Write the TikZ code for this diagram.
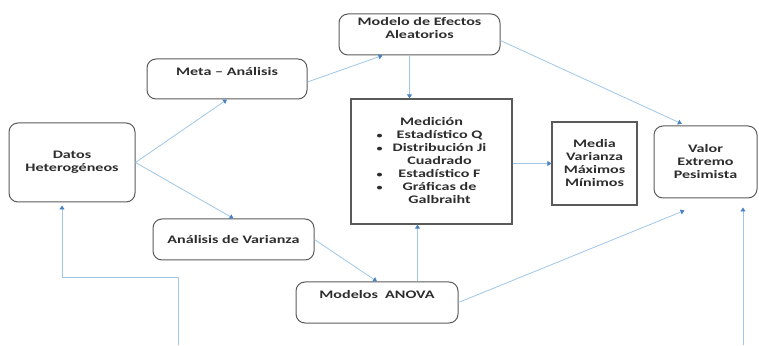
\documentclass[tikz,border=0pt]{standalone}
\usepackage{fontspec}
\setmainfont{Carlito}[FakeStretch=1.4]
\usetikzlibrary{arrows.meta}
\definecolor{lineablue}{RGB}{160,198,232}
\definecolor{puntablue}{RGB}{75,130,195}
\definecolor{bordegris}{RGB}{90,90,90}
\definecolor{textogris}{RGB}{45,45,45}
\tikzset{
  roundbox/.style={draw=bordegris,line width=1pt,rounded corners=9pt,align=center,inner sep=2pt,text=textogris},
  squarebox/.style={draw=bordegris,line width=1.2pt,align=center,inner sep=2pt,text=textogris},
  arriba/.style={text depth=#1},
  flecha/.style={draw=lineablue,line width=0.8pt,-{Triangle[length=4pt,width=5pt,color=puntablue]}}
}
\newcommand{\punto}{\scalebox{0.75}{\textbullet}}

\begin{document}
\begin{tikzpicture}[x=1pt,y=1pt,font=\bfseries\fontsize{11.5}{13}\selectfont]
  \useasboundingbox (0,0) rectangle (759,345);
  \node[roundbox,minimum width=126pt,minimum height=79pt] (datos) at (72,182.5) {Datos\\Heterogéneos};
  \node[roundbox,arriba=14.5pt,minimum width=160pt,minimum height=40pt] (meta) at (227,266) {Meta – Análisis};
  \node[roundbox,arriba=14pt,minimum width=161pt,minimum height=41pt] (modelo) at (419.5,310.5) {Modelo de Efectos\\Aleatorios};
  \node[squarebox,minimum width=161pt,minimum height=125pt] (medicion) at (431.5,183.5) {%
    \begin{tabular}{@{}l@{\hspace{10pt}}c@{}}
      \multicolumn{2}{c}{Medición}\\
      \punto & Estadístico Q\\
      \punto & Distribución Ji\\
             & Cuadrado\\
      \punto & Estadístico F\\
      \punto & Gráficas de\\
             & Galbraiht
    \end{tabular}};
  \node[squarebox,minimum width=85pt,minimum height=83pt] (media) at (594.5,181.5) {Media\\Varianza\\Máximos\\Mínimos};
  \node[roundbox,minimum width=103pt,minimum height=72pt] (valor) at (705.5,183) {Valor\\Extremo\\Pesimista};
  \node[roundbox,minimum width=161pt,minimum height=41pt] (analisis) at (233.5,105.5) {Análisis de Varianza};
  \node[roundbox,arriba=15.5pt,minimum width=162pt,minimum height=41pt] (anova) at (377,42.5) {Modelos\ \ ANOVA};

  \coordinate (bl) at (178,0);
  \coordinate (br) at (743,0);

  \draw[flecha] (datos.east) -- (meta.south);
  \draw[flecha] (datos.east) -- (analisis.north);
  \draw[flecha] ([yshift=-3pt]meta.east) -- ([xshift=-37pt]modelo.south);
  \draw[flecha] ([xshift=-22pt]medicion.north |- modelo.south) -- ([xshift=-22pt]medicion.north);
  \draw[flecha,shorten >=4pt] ([yshift=-6pt]modelo.east) -- ([xshift=-20pt]valor.north);
  \draw[flecha] (medicion.east |- media.west) -- (media.west);
  \draw[flecha] (analisis.east) -- (anova.north);
  \draw[flecha] ([xshift=-14pt]medicion.south |- anova.north) -- ([xshift=-14pt]medicion.south);
  \draw[flecha] (anova.east) -- ([xshift=-21pt,yshift=-12pt]valor.south);
  \draw[flecha] (br) -- ([xshift=37.5pt,yshift=-9pt]valor.south);
  \draw[flecha] (bl) -- ++(0,68) -| ([xshift=-10pt,yshift=-3pt]datos.south);
\end{tikzpicture}
\end{document}
